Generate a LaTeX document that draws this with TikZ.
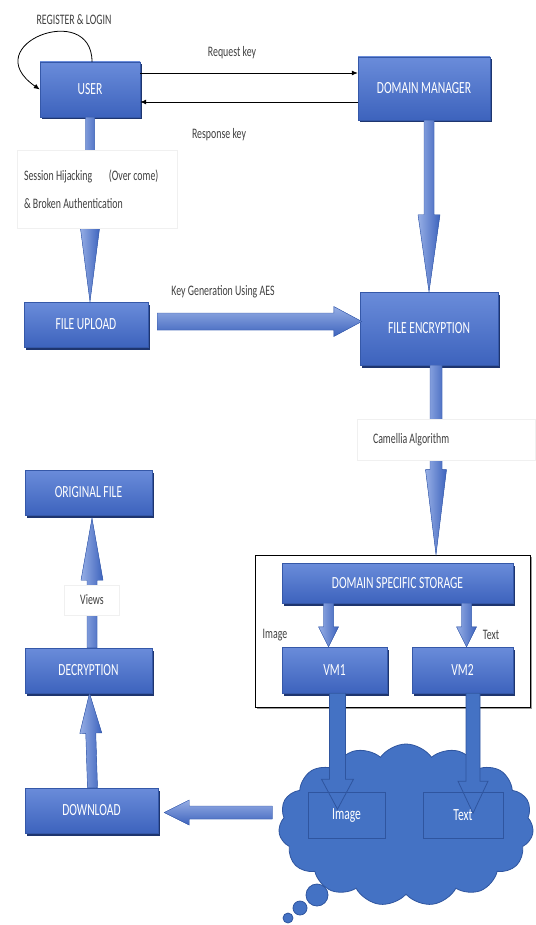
\documentclass[tikz,border=0pt]{standalone}
\usepackage{fontspec}
\setmainfont{Carlito}[FakeStretch=0.68]
\usepackage{tikz}
\usetikzlibrary{positioning, calc, arrows.meta, shadows, shapes.symbols}

\definecolor{boxtop}{HTML}{6A8CDA}
\definecolor{boxbot}{HTML}{3D63BD}
\definecolor{boxline}{HTML}{3558A8}
\definecolor{boxshadow}{HTML}{1E356F}
\definecolor{cloudblue}{HTML}{4472C4}
\definecolor{cloudline}{HTML}{2F559F}
\definecolor{labelgray}{HTML}{404040}

\newcommand{\labelfont}{\fontsize{14.5}{18}\selectfont}
\newcommand{\boxfont}{\fontsize{17}{20}\selectfont}

\tikzset{
    box/.style={draw=boxline, top color=boxtop, bottom color=boxbot, text=white,
        font=\boxfont, inner sep=2pt,
        drop shadow={shadow xshift=1.5pt, shadow yshift=-2.5pt, fill=boxshadow, opacity=1}},
    note/.style={text=labelgray, font=\labelfont, inner sep=2pt},
    notebox/.style={note, fill=white, draw=black!6},
    barrow/.style={fill=cloudblue, draw=boxline, line width=0.4pt},
    vbar/.style={left color=boxtop!70!white, right color=boxbot},
    hbar/.style={top color=boxtop!70!white, bottom color=boxbot},
    cbar/.style={fill=cloudblue, draw=cloudline, line width=0.8pt},
    thinarrow/.style={-{Latex[length=6pt,width=5pt]}, black, line width=0.8pt},
    innerbox/.style={draw=cloudline, line width=0.8pt, text=white, font=\boxfont}
}

% block arrow: [style]{from}{to}{half shaft}{half head}{head length}
\newcommand{\blockarrow}[6][]{%
    \coordinate (ba-s) at (#2);
    \coordinate (ba-e) at (#3);
    \coordinate (ba-h) at ($(ba-e)!#6pt!(ba-s)$);
    \path[barrow, #1]
        ($(ba-s)!#4pt!90:(ba-e)$) -- ($(ba-h)!#4pt!90:(ba-e)$)
        -- ($(ba-h)!#5pt!90:(ba-e)$) -- (ba-e) -- ($(ba-h)!#5pt!-90:(ba-e)$)
        -- ($(ba-h)!#4pt!-90:(ba-e)$) -- ($(ba-s)!#4pt!-90:(ba-e)$) -- cycle;
}

\begin{document}
\begin{tikzpicture}[x=1pt, y=-1pt]
    \useasboundingbox (0,0) rectangle (535,925);

    % boxes
    \node[box, minimum width=100pt, minimum height=55pt] (user) at (90,89.5) {USER};
    \node[box, minimum width=132pt, minimum height=63pt] (dm) at (424,88.5) {DOMAIN MANAGER};
    \node[box, minimum width=124pt, minimum height=45pt] (upload) at (86,324.5) {FILE UPLOAD};
    \node[box, minimum width=138pt, minimum height=73pt] (fenc) at (429,328.5) {FILE ENCRYPTION};
    \node[box, minimum width=127pt, minimum height=45pt] (orig) at (88.5,492.5) {ORIGINAL FILE};
    \node[box, minimum width=127pt, minimum height=45pt] (decr) at (88.5,670.5) {DECRYPTION};
    \node[box, minimum width=133pt, minimum height=45pt] (down) at (91.5,810.5) {DOWNLOAD};

    % storage
    \node[draw=black, fill=white, line width=0.7pt, minimum width=275pt, minimum height=152pt,
        drop shadow={shadow xshift=1.5pt, shadow yshift=-1.5pt, fill=black!40, opacity=1}]
        (store) at (392.5,631) {};
    \node[box, minimum width=231pt, minimum height=40pt] (dss) at (397.5,583) {DOMAIN SPECIFIC STORAGE};
    \node[box, minimum width=105pt, minimum height=46pt] (vm1) at (334.5,670) {VM1};
    \node[box, minimum width=101pt, minimum height=46pt] (vm2) at (462.5,670) {VM2};

    % cloud
    \node[cloud, cloud puffs=15, cloud puff arc=110, aspect=1.35, fill=cloudblue, draw=cloudline,
        line width=0.8pt, minimum width=255pt, minimum height=162pt] (cloud) at (406,825) {};
    \foreach \cx/\cy/\r in {317/895/11, 300/908/7, 288/918/5}
    {
        \draw[cbar] (\cx,\cy) circle (\r pt);
    }

    % thin arrows
    \draw[thinarrow] ([xshift=2pt]user.north) .. controls +(0,-62) and +(-65,-45) .. (user.west);
    \draw[thinarrow] ([yshift=16.5pt]user.east) -- ([yshift=16.5pt]user.east -| dm.west);
    \draw[thinarrow] ([yshift=-12.5pt]user.east -| dm.west) -- ([yshift=-12.5pt]user.east);

    % block arrows
    \blockarrow[vbar]{user.south}{user.south |- upload.north}{4.5}{10}{77}
    \blockarrow[vbar]{fenc.north |- dm.south}{fenc.north}{5}{11}{77}
    \blockarrow[hbar]{$(upload.east)+(9,-3)$}{$(fenc.west |- upload.east)+(2,-3)$}{8.5}{15}{28}
    \blockarrow[vbar]{$(fenc.south)+(7,0)$}{$(fenc.south |- store.north)+(7,0)$}{6}{10.5}{85}
    \blockarrow[vbar]{$(vm1.north |- dss.south)+(-6,0)$}{$(vm1.north)+(-6,0)$}{5}{10}{20}
    \blockarrow[vbar]{$(vm2.north |- dss.south)+(4,0)$}{$(vm2.north)+(4,0)$}{5}{10}{20}
    \blockarrow[cbar]{$(vm1.south)+(3,0)$}{$(vm1.south)+(3,116)$}{8}{16}{30}
    \blockarrow[cbar]{$(vm2.south)+(10.5,0)$}{$(vm2.south)+(10.5,120)$}{7}{15}{32}
    \blockarrow[hbar]{$(cloud.west |- down.east)+(-7,2)$}{$(down.east)+(6,2)$}{6.5}{12.5}{25}
    \blockarrow[vbar]{$(decr.north)+(3.5,0)$}{$(orig.south)+(3.5,3)$}{5}{11}{62}
    \blockarrow[vbar]{$(down.north)+(1,0)$}{$(decr.south)+(1,0)$}{5}{11}{40}

    % boxes inside the cloud
    \node[innerbox, minimum width=77pt, minimum height=46pt] (imgbox) at (346.5,815) {Image};
    \node[innerbox, minimum width=80pt, minimum height=46pt] (txtbox) at (463,815) {Text};

    % labels
    \node[note] (reglbl) at (74,20) {REGISTER \& LOGIN};
    \node[note] (reqlbl) at (232,53) {Request key};
    \node[note] (reslbl) at (219,135) {Response key};
    \node[notebox, minimum width=160pt, minimum height=78pt, text width=146pt, align=flush left]
        (seslbl) at (97,189) {Session Hijacking\quad\ (Over come)\\[10pt]\& Broken Authentication};
    \node[note, fill=white] (keylbl) at (223,292) {Key Generation Using AES};
    \node[notebox, minimum width=178pt, minimum height=41pt, text width=146pt, align=flush left]
        (camlbl) at (446,440) {Camellia Algorithm};
    \node[note] (imglbl) at (275,635) {Image};
    \node[note] (txtlbl) at (491,635) {Text};
    \node[notebox, minimum width=55pt, minimum height=30pt] (viewlbl) at (92,600) {Views};
\end{tikzpicture}
\end{document}
